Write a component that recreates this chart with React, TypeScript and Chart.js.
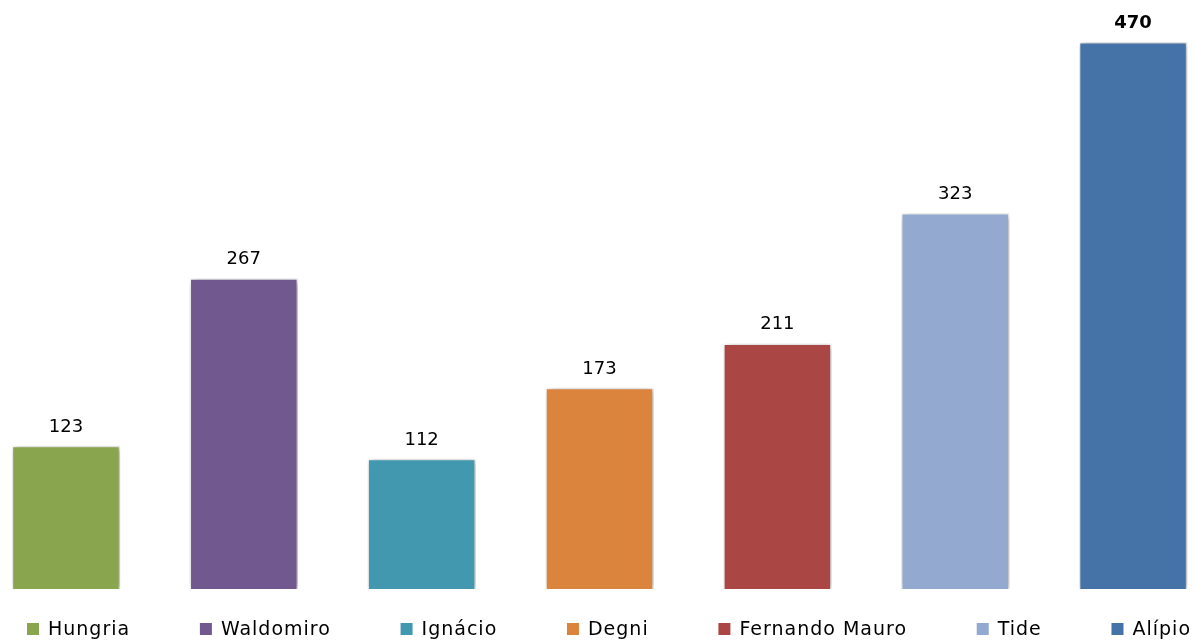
import { useEffect, useRef } from "react";
import { Chart, registerables } from "chart.js";

Chart.register(...registerables);

const categories = ["Hungria", "Waldomiro", "Ignácio", "Degni", "Fernando Mauro", "Tide", "Alípio"];
const values = [123, 267, 112, 173, 211, 323, 470];
const colors = ["#89A54E", "#71588F", "#4198AF", "#DB843D", "#AA4643", "#93A9CF", "#4572A7"];

const FONT = '"DejaVu Sans", sans-serif';

const barShadow = {
  id: "barShadow",
  beforeDatasetsDraw(chart: any) {
    const ctx = chart.ctx;
    ctx.save();
    ctx.shadowColor = "rgba(0,0,0,0.35)";
    ctx.shadowBlur = 7;
    ctx.shadowOffsetX = 2;
    ctx.shadowOffsetY = 1;
  },
  afterDatasetsDraw(chart: any) {
    chart.ctx.restore();
  },
};

const valueLabels = {
  id: "valueLabels",
  afterDatasetsDraw(chart: any) {
    const ctx = chart.ctx;
    const meta = chart.getDatasetMeta(0);
    const data = chart.data.datasets[0].data as number[];
    const max = Math.max(...data);
    ctx.save();
    ctx.fillStyle = "#000";
    ctx.textAlign = "center";
    ctx.textBaseline = "alphabetic";
    meta.data.forEach((bar: any, i: number) => {
      const v = data[i];
      ctx.font = `${v === max ? "bold " : ""}18px ${FONT}`;
      ctx.fillText(String(v), bar.x, bar.y - 14);
    });
    ctx.restore();
  },
};

const bottomLegend = {
  id: "bottomLegend",
  afterDraw(chart: any, _args: any, opts: any) {
    const ctx = chart.ctx;
    const labels = chart.data.labels as string[];
    const bg = chart.data.datasets[0].backgroundColor as string[];
    ctx.save();
    ctx.font = `19px ${FONT}`;
    (ctx as any).letterSpacing = "1px";
    const box = 12;
    const gapText = 9;
    const widths = labels.map((l) => box + gapText + ctx.measureText(l).width);
    const sum = widths.reduce((a, b) => a + b, 0);
    const gap = (opts.right - opts.left - sum) / (labels.length - 1);
    let x = opts.left;
    const y = opts.y;
    ctx.textBaseline = "middle";
    ctx.textAlign = "left";
    labels.forEach((l, i) => {
      ctx.fillStyle = bg[i];
      ctx.fillRect(x, y - box / 2, box, box);
      ctx.fillStyle = "#000";
      ctx.fillText(l, x + box + gapText, y + 1);
      x += widths[i] + gap;
    });
    ctx.restore();
  },
};

export default function App() {
  const ref = useRef<HTMLCanvasElement | null>(null);

  useEffect(() => {
    if (!ref.current) return;
    const chart = new Chart(ref.current, {
      type: "bar",
      data: {
        labels: categories,
        datasets: [
          {
            label: "Votos",
            data: values,
            backgroundColor: colors,
            borderColor: "rgba(255,255,255,0.55)",
            borderWidth: 1.5,
            categoryPercentage: 1,
            barPercentage: 0.61,
            clip: false as any,
          },
        ],
      },
      options: {
        animation: false,
        responsive: false,
        maintainAspectRatio: false,
        layout: { padding: { top: 7, bottom: 54, left: 0, right: 0 } },
        scales: {
          x: { display: false, grid: { display: false } },
          y: { display: false, min: 0, max: 500, grid: { display: false } },
        },
        plugins: {
          legend: { display: false },
          tooltip: { enabled: false },
          bottomLegend: { left: 50, right: 1214, y: 629 },
        } as any,
      },
      plugins: [barShadow, valueLabels, bottomLegend],
    });
    return () => chart.destroy();
  }, []);

  return (
    <div
      style={{
        position: "fixed",
        left: 0,
        top: 0,
        width: 1195,
        height: 643,
        overflow: "hidden",
        background: "#fff",
      }}
    >
      <canvas ref={ref} width={1245} height={643} style={{ position: "absolute", left: -23, top: 0 }} />
    </div>
  );
}
